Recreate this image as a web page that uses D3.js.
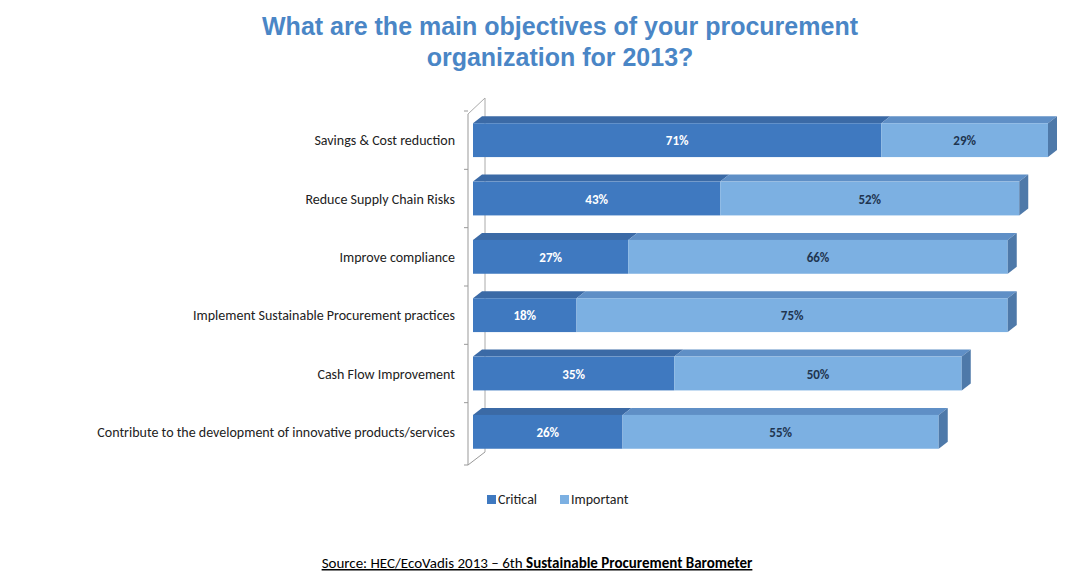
<!DOCTYPE html>
<html><head><meta charset="utf-8">
<script src="https://cdn.jsdelivr.net/npm/d3@7"></script>
<style>body{margin:0;background:#fff}text{font-family:Calibri,Carlito,"Liberation Sans",sans-serif}</style>
</head><body>
<script>
const categories = ["Savings & Cost reduction","Reduce Supply Chain Risks","Improve compliance","Implement Sustainable Procurement practices","Cash Flow Improvement","Contribute to the development of innovative products/services"]
const critical = [71,43,27,18,35,26]
const important = [29,52,66,75,50,55]
const seriesNames = ["Critical","Important"]

const width = 1074, height = 586
const dx = 9, dy = -7
const svg = d3.select('body').append('svg').attr('width', width).attr('height', height)

svg.append('text').attr('x', 560).attr('y', 35).attr('text-anchor','middle')
  .attr('fill','#4a86c6').style('font-size','25px').style('font-weight','bold')
  .style('font-family','"Liberation Sans",Arial,sans-serif')
  .text('What are the main objectives of your procurement')
svg.append('text').attr('x', 560).attr('y', 66).attr('text-anchor','middle')
  .attr('fill','#4a86c6').style('font-size','25px').style('font-weight','bold')
  .style('font-family','"Liberation Sans",Arial,sans-serif')
  .text('organization for 2013?')

const x = d3.scaleLinear().domain([0,100]).range([473, 1048])
const y = d3.scaleBand().domain(categories).range([111, 461]).paddingInner(0.42).paddingOuter(0.21)

// axis walls
const g = svg.append('g')
g.append('path').attr('d', `M468,${y.range()[0]+3} L468,465 L${468+dx+8},${465+dy-6}`).attr('stroke','#999').attr('fill','none')
g.append('path').attr('d', `M468,${y.range()[0]+3} L${468+dx+8},${y.range()[0]+dy-6} L${468+dx+8},${465+dy-6}`).attr('stroke','#aaa').attr('fill','none')
categories.forEach((c,i) => {
  const ty = y(c) - (y.step()-y.bandwidth())/2
  g.append('line').attr('x1',464).attr('x2',468).attr('y1',ty).attr('y2',ty).attr('stroke','#999')
})
g.append('line').attr('x1',464).attr('x2',468).attr('y1',465).attr('y2',465).attr('stroke','#999')

const data = categories.map((c,i) => ({c, segs:[[0,critical[i]],[critical[i],critical[i]+important[i]]]}))
const frontCol = ['#3f79c0','#7cb0e2'], topCol = ['#3b6aa6','#5f8fc6'], sideCol = '#4e79a9'
const bars = svg.append('g')
data.forEach(d => {
  const y0 = y(d.c), h = y.bandwidth()
  d.segs.forEach((s,k) => {
    const x0 = x(s[0]), x1 = x(s[1])
    bars.append('path').attr('d', `M${x0},${y0} L${x0+dx},${y0+dy} L${x1+dx},${y0+dy} L${x1},${y0} Z`).attr('fill', topCol[k])
    bars.append('rect').attr('x', x0).attr('y', y0).attr('width', x1-x0).attr('height', h).attr('fill', frontCol[k])
    bars.append('text').attr('x',(x0+x1)/2).attr('y', y0+h/2+5).attr('text-anchor','middle')
      .attr('fill', k ? '#1f3550' : '#fff').style('font-size','13px').style('font-weight','bold')
      .text((s[1]-s[0])+'%')
  })
  const xe = x(d.segs[1][1])
  bars.append('path').attr('d', `M${xe},${y0} L${xe+dx},${y0+dy} L${xe+dx},${y0+h+dy} L${xe},${y0+h} Z`).attr('fill', sideCol)
  svg.append('text').attr('x', 455).attr('y', y0+h/2+5).attr('text-anchor','end')
    .attr('fill','#222').style('font-size','14px').text(d.c)
})

const leg = svg.append('g').attr('transform','translate(487,493)')
seriesNames.forEach((n,i) => {
  const lx = i ? 73 : 0
  leg.append('rect').attr('x', lx).attr('y', 2).attr('width', 9).attr('height', 9).attr('fill', frontCol[i])
  leg.append('text').attr('x', lx+11).attr('y', 11).attr('fill','#222').style('font-size','14px').text(n)
})

const src = svg.append('text').attr('x', 537).attr('y', 568).attr('text-anchor','middle')
  .attr('fill','#000').style('font-size','15px').style('text-decoration','underline')
src.append('tspan').text('Source: HEC/EcoVadis 2013 – 6th ')
src.append('tspan').style('font-weight','bold').text('Sustainable Procurement Barometer')
</script>
</body></html>
